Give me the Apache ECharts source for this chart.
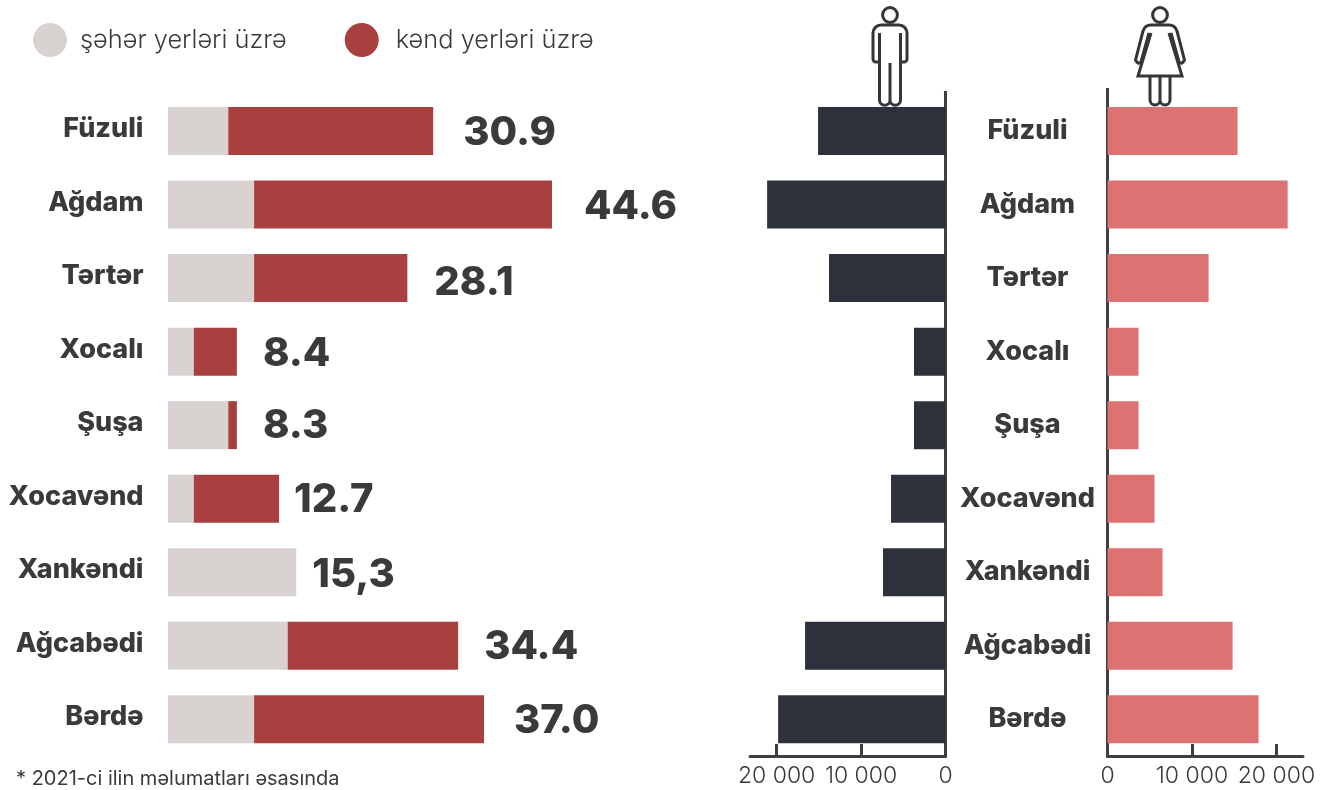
<!DOCTYPE html>
<html>
<head>
<meta charset="utf-8">
<title>chart</title>
<script src="https://cdn.jsdelivr.net/npm/echarts@6/dist/echarts.min.js"></script>
<style>
  html, body { margin: 0; padding: 0; background: #fff; }
  #chart { width: 1330px; height: 790px; }
</style>
</head>
<body>
<div id="chart"></div>
<script>
  const categories = ['Füzuli', 'Ağdam', 'Tərtər', 'Xocalı', 'Şuşa', 'Xocavənd', 'Xankəndi', 'Ağcabədi', 'Bərdə']
  const urban = [7.0, 10.0, 10.0, 3.0, 7.0, 3.0, 14.9, 13.9, 10.0]
  const rural = [23.8, 34.6, 17.8, 5.0, 1.0, 9.9, 0, 19.8, 26.7]
  const totalLabels = ['30.9', '44.6', '28.1', '8.4', '8.3', '12.7', '15,3', '34.4', '37.0']
  const men = [15090, 21120, 13790, 3730, 3730, 6450, 7400, 16630, 19820]
  const women = [15400, 21330, 11970, 3670, 3670, 5570, 6520, 14810, 17890]
  const tickValues = [0, 10000, 20000]

  // gap between bar end and the number, the numbers do not sit evenly in the original
  const labelGap = [30, 32, 27, 26, 26, 15, 16, 26, 30]
  const labelShift = [2, 2, 5, 2, 1, 1, 3, 1, 2]

  const textColor = '#3a3a3c'
  const axisColor = '#3f3f41'
  const font = 'Inter'

  const formatTick = v => String(v).replace(/\B(?=(\d{3})+$)/g, ' ')

  const genderAxis = inverse => ({
    type: 'value',
    inverse: inverse,
    min: 0,
    max: 23150,
    splitLine: {show: false},
    axisLine: {show: true, lineStyle: {color: axisColor, width: 3}},
    axisTick: {show: true, inside: true, length: 12, customValues: tickValues, lineStyle: {color: axisColor, width: 3}},
    axisLabel: {
      customValues: tickValues,
      formatter: formatTick,
      margin: 9,
      fontFamily: font,
      fontWeight: 300,
      fontSize: 23,
      color: textColor
    }
  })

  const chart = echarts.init(document.getElementById('chart'), null, {renderer: 'canvas'})

  // pictograms, registered once so the graphic component can use them by name
  echarts.graphic.registerShape('manIcon', echarts.graphic.extendPath(
    'M879.5 33V100a5.25 5.25 0 0 0 10.5 0V63V100a5.25 5.25 0 0 0 10.5 0V33' +
    'M879.5 62H876a3 3 0 0 1 -3 -3V33a8 8 0 0 1 8 -8H899a8 8 0 0 1 8 8V59a3 3 0 0 1 -3 3H900.5'
  ))
  echarts.graphic.registerShape('womanIcon', echarts.graphic.extendPath(
    'M1151 33L1138 76H1182L1169 33' +
    'M1141 62L1149 33M1141 62Q1138 65 1135.5 60L1143 31Q1145 25 1151 25H1169Q1175 25 1177 31L1184.5 60Q1182 65 1179 62L1171 33' +
    'M1150 76V100a5 5 0 0 0 10 0V76V100a5 5 0 0 0 10 0V76'
  ))

  chart.setOption({
    animation: false,
    backgroundColor: '#fff',
    title: {
      text: '* 2021-ci ilin məlumatları əsasında',
      left: 11,
      top: 764,
      textStyle: {fontFamily: font, fontWeight: 400, fontSize: 20, color: textColor}
    },
    legend: {
      left: 28,
      top: 18,
      itemWidth: 34,
      itemHeight: 34,
      itemGap: 58,
      icon: 'circle',
      data: [
        {name: 'şəhər yerləri üzrə'},
        {name: 'kənd yerləri üzrə', textStyle: {padding: [0, 0, 0, 12]}}
      ],
      textStyle: {fontFamily: font, fontWeight: 300, fontSize: 25.4, color: textColor, padding: [0, 0, 0, 8]}
    },
    grid: [
      {left: 168, top: 94.3, width: 516.6, height: 661.7},
      {left: 750, top: 94.3, width: 195.5, height: 661.7},
      {left: 1107.5, top: 94.3, width: 195.5, height: 661.7}
    ],
    xAxis: [
      {gridIndex: 0, type: 'value', min: 0, max: 60, show: false},
      Object.assign({gridIndex: 1}, genderAxis(true)),
      Object.assign({gridIndex: 2}, genderAxis(false))
    ],
    yAxis: [
      {
        gridIndex: 0,
        type: 'category',
        inverse: true,
        data: categories,
        axisLine: {show: false},
        axisTick: {show: false},
        // the left names sit a little above the bar centres
        axisLabel: {margin: 24.5, verticalAlign: 'bottom', lineHeight: 4, fontFamily: font, fontWeight: 800, fontSize: 27, color: textColor}
      },
      {
        gridIndex: 1,
        type: 'category',
        position: 'right',
        inverse: true,
        data: categories,
        axisLine: {show: true, lineStyle: {color: axisColor, width: 3}},
        axisTick: {show: false},
        axisLabel: {margin: 82, align: 'center', fontFamily: font, fontWeight: 800, fontSize: 27, color: textColor}
      },
      {
        gridIndex: 2,
        type: 'category',
        inverse: true,
        data: categories,
        axisLine: {show: true, lineStyle: {color: axisColor, width: 3}},
        axisTick: {show: false},
        axisLabel: {show: false}
      }
    ],
    series: [
      {
        name: 'şəhər yerləri üzrə',
        type: 'bar',
        stack: 'total',
        xAxisIndex: 0,
        yAxisIndex: 0,
        barWidth: 48,
        itemStyle: {color: '#d8d3d1'},
        data: urban
      },
      {
        name: 'kənd yerləri üzrə',
        type: 'bar',
        stack: 'total',
        xAxisIndex: 0,
        yAxisIndex: 0,
        barWidth: 48,
        itemStyle: {color: '#a84040'},
        data: rural.map((v, i) => ({
          value: v,
          label: {
            show: true,
            position: 'right',
            distance: labelGap[i],
            offset: [0, labelShift[i]],
            formatter: totalLabels[i],
            fontFamily: font,
            fontWeight: 800,
            fontSize: 40,
            color: textColor
          }
        }))
      },
      {
        name: 'men',
        type: 'bar',
        xAxisIndex: 1,
        yAxisIndex: 1,
        barWidth: 48,
        itemStyle: {color: '#2d313c'},
        data: men
      },
      {
        name: 'women',
        type: 'bar',
        xAxisIndex: 2,
        yAxisIndex: 2,
        barWidth: 48,
        itemStyle: {color: '#dc7272'},
        data: women
      }
    ]
  })

  // small stubs above the axes and the two pictograms are not part of any scale
  const manX = chart.convertToPixel({xAxisIndex: 1}, 0)
  const womanX = chart.convertToPixel({xAxisIndex: 2}, 0)
  const stroke = {fill: null, stroke: '#353538', lineWidth: 3}

  chart.setOption({
    graphic: [
      {type: 'line', shape: {x1: manX, y1: 91, x2: manX, y2: 95}, style: {stroke: axisColor, lineWidth: 3}},
      {type: 'line', shape: {x1: womanX, y1: 88, x2: womanX, y2: 95}, style: {stroke: axisColor, lineWidth: 3}},
      {type: 'circle', shape: {cx: 890, cy: 15, r: 7.4}, style: stroke},
      {type: 'manIcon', style: stroke},
      {type: 'circle', shape: {cx: 1160, cy: 15, r: 7.4}, style: stroke},
      {type: 'womanIcon', style: stroke}
    ]
  })
</script>
</body>
</html>
